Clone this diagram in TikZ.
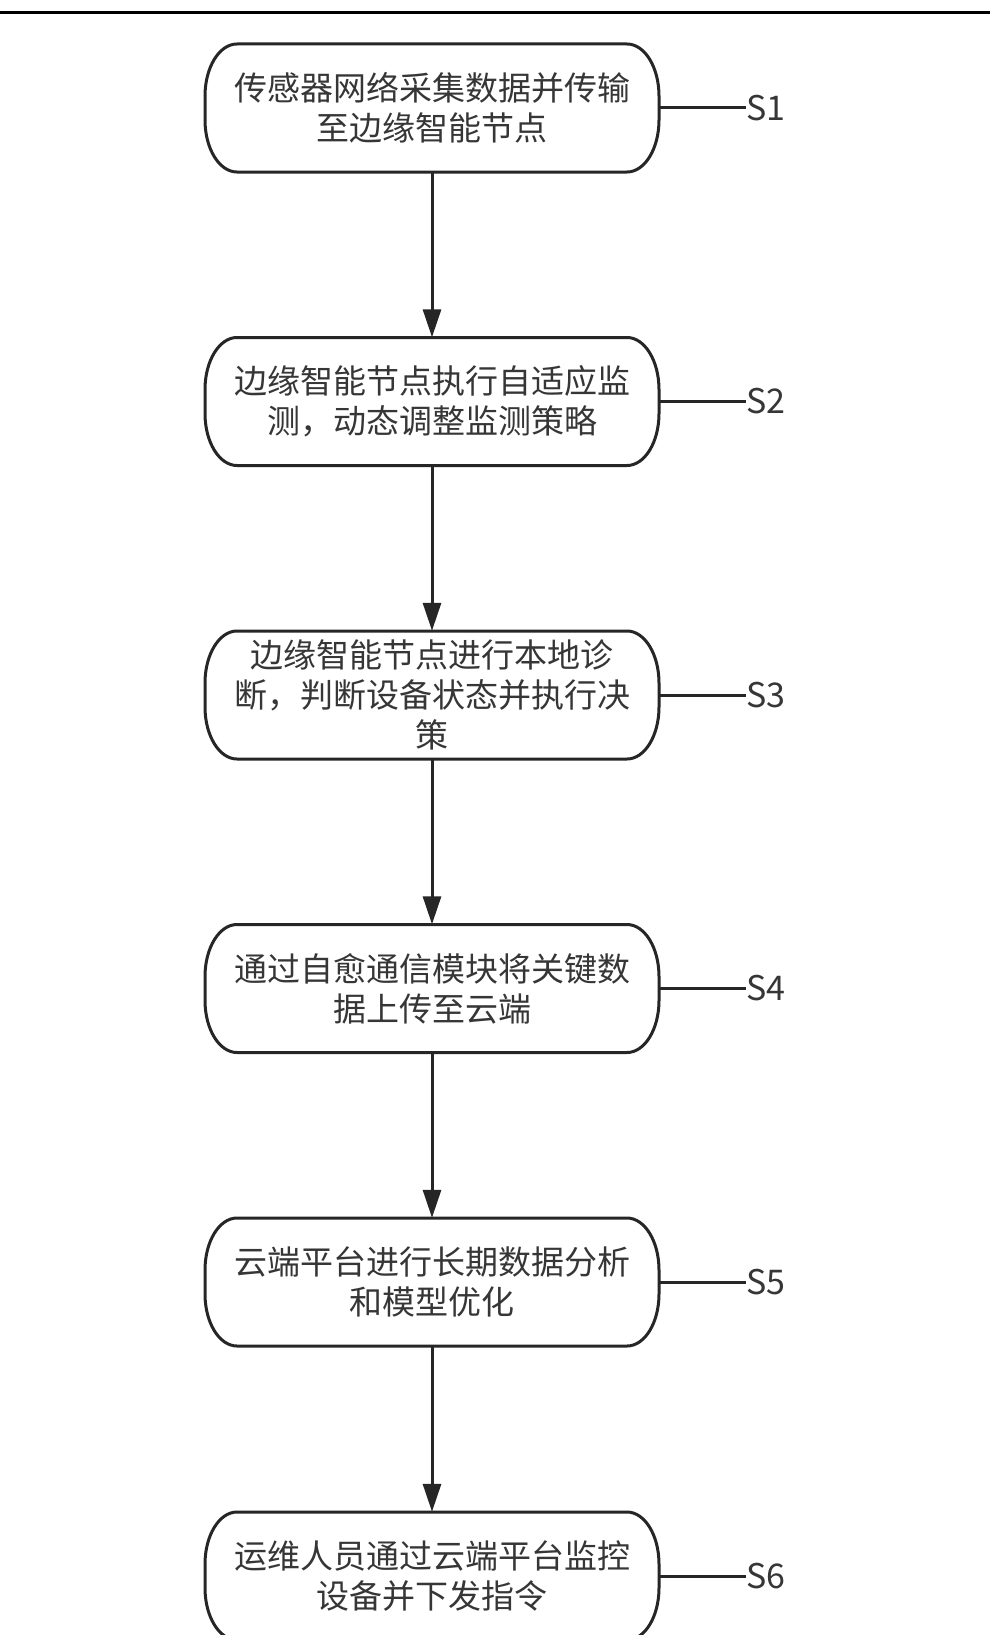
\documentclass[tikz,border=0pt]{standalone}
\usepackage{fontspec}
\setmainfont{Noto Sans CJK SC}
\usetikzlibrary{arrows.meta,calc}
\definecolor{linec}{HTML}{262626}
\definecolor{textc}{HTML}{363636}
\begin{document}
\begin{tikzpicture}[x=1pt,y=-1pt,
  stepbox/.style={minimum width=454pt, minimum height=128pt, align=center, font=\fontsize{33}{40}\selectfont, text=textc, inner sep=0pt},
  boxline/.style={draw=linec, line width=3pt, line join=round},
  lab/.style={anchor=west, inner sep=0pt, font=\fontsize{34}{38}\selectfont, text=textc},
  arr/.style={draw=linec, line width=3pt, -{Triangle[length=28pt,width=18pt]}},
  tick/.style={draw=linec, line width=3pt},
  topline/.style={draw=black, line width=3pt}]
\useasboundingbox (0,0) rectangle (990,1635);
\clip (0,0) rectangle (990,1635);
\fill[white] (0,0) rectangle (990,1635);
\coordinate (tl) at (0,12.5);
\coordinate (tr) at (990,12.5);
\draw[topline] (tl) -- (tr);

\node[stepbox] (b1) at (432,108) {传感器网络采集数据并传输\\至边缘智能节点};
\node[stepbox] (b2) at (432,401.5) {边缘智能节点执行自适应监\\测，动态调整监测策略};
\node[stepbox] (b3) at (432,695) {边缘智能节点进行本地诊\\断，判断设备状态并执行决\\策};
\node[stepbox] (b4) at (432,988.5) {通过自愈通信模块将关键数\\据上传至云端};
\node[stepbox] (b5) at (432,1282) {云端平台进行长期数据分析\\和模型优化};
\node[stepbox] (b6) at (432,1576) {运维人员通过云端平台监控\\设备并下发指令};

\foreach \b in {b1,b2,b3,b4,b5,b6} {
  \draw[boxline]
    ($(\b.center)+(-195,-64)$) -- ($(\b.center)+(195,-64)$)
    .. controls ($(\b.center)+(212.7,-64)$) and ($(\b.center)+(227,-40.7)$) .. ($(\b.center)+(227,-12)$)
    -- ($(\b.center)+(227,12)$)
    .. controls ($(\b.center)+(227,40.7)$) and ($(\b.center)+(212.7,64)$) .. ($(\b.center)+(195,64)$)
    -- ($(\b.center)+(-195,64)$)
    .. controls ($(\b.center)+(-212.7,64)$) and ($(\b.center)+(-227,40.7)$) .. ($(\b.center)+(-227,12)$)
    -- ($(\b.center)+(-227,-12)$)
    .. controls ($(\b.center)+(-227,-40.7)$) and ($(\b.center)+(-212.7,-64)$) .. cycle;
}

\foreach \i in {1,...,6} {
  \node[lab] (s\i) at (746,0 |- b\i) {S\i};
  \draw[tick] (b\i.east) -- (s\i.west);
}

\draw[arr] (b1) -- (b2);
\draw[arr] (b2) -- (b3);
\draw[arr] (b3) -- (b4);
\draw[arr] (b4) -- (b5);
\draw[arr] (b5) -- (b6);
\end{tikzpicture}
\end{document}
